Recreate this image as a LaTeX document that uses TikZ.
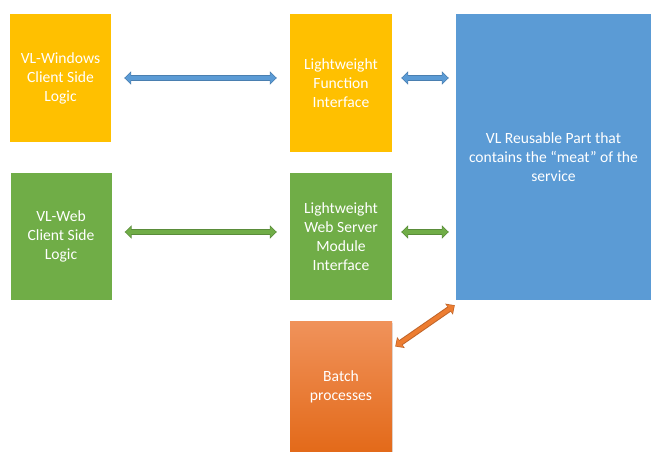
\documentclass[tikz,border=0pt]{standalone}
\usepackage{fontspec}
\setmainfont{Carlito}
\usetikzlibrary{arrows.meta,shadows}
\definecolor{cyel}{HTML}{FFC000}
\definecolor{cgrn}{HTML}{70AD47}
\definecolor{cblu}{HTML}{5B9BD5}
\definecolor{cbluD}{HTML}{4A7FB0}
\definecolor{cgrnD}{HTML}{5A8C3A}
\definecolor{corT}{HTML}{F0925A}
\definecolor{corB}{HTML}{E36A1A}
\definecolor{cor}{HTML}{ED7D31}
\definecolor{corD}{HTML}{C0652A}
\begin{document}
\begin{tikzpicture}[x=1pt,y=-1pt,
  box/.style={draw=none,text=white,align=center,font=\fontsize{15.6}{19}\selectfont,inner sep=0pt},
  arrD/.style={line width=6pt,{Triangle[width=13pt,length=7pt]}-{Triangle[width=13pt,length=7pt]}},
  arrL/.style={line width=4pt,shorten <=1pt,shorten >=1pt,{Triangle[width=10pt,length=5.5pt]}-{Triangle[width=10pt,length=5.5pt]}}
]
\useasboundingbox (0,0) rectangle (667,462);
\fill[white] (0,0) rectangle (667,462);
% boxes
\node[box,fill=cyel,minimum width=101pt,minimum height=128pt] (win) at (60.5,78) {VL-Windows\\Client Side\\Logic};
\node[box,fill=cyel,minimum width=102pt,minimum height=138pt] (lfi) at (341,83) {Lightweight\\Function\\Interface};
\node[box,fill=cblu,minimum width=195pt,minimum height=286pt] (vlr) at (553.5,157) {VL Reusable Part that\\contains the “meat” of the\\service};
\node[box,fill=cgrn,minimum width=101pt,minimum height=127pt] (web) at (61,236.5) {VL-Web\\Client Side\\Logic};
\node[box,fill=cgrn,minimum width=102pt,minimum height=127pt] (lws) at (341,236.5) {Lightweight\\Web Server\\Module\\Interface};
\node[box,minimum width=102pt,minimum height=129pt,top color=corT,bottom color=corB,
  drop shadow={shadow xshift=1pt,shadow yshift=-1pt,opacity=0.25}] (bat) at (341,386.5) {Batch\\processes};
% arrows
\draw[arrD,cbluD] ([xshift=13pt]win.east) -- ([xshift=-13pt]win.east -| lfi.west);
\draw[arrL,cblu] ([xshift=13pt]win.east) -- ([xshift=-13pt]win.east -| lfi.west);
\draw[arrD,cbluD] ([xshift=9pt]lfi.east |- win.east) -- ([xshift=-7pt]win.east -| vlr.west);
\draw[arrL,cblu] ([xshift=9pt]lfi.east |- win.east) -- ([xshift=-7pt]win.east -| vlr.west);
\draw[arrD,cgrnD] ([xshift=13pt,yshift=4.5pt]web.east) -- ([xshift=-13pt,yshift=4.5pt]web.east -| lws.west);
\draw[arrL,cgrn] ([xshift=13pt,yshift=4.5pt]web.east) -- ([xshift=-13pt,yshift=4.5pt]web.east -| lws.west);
\draw[arrD,cgrnD] ([xshift=9pt,yshift=4.5pt]lws.east) -- ([xshift=-7pt,yshift=4.5pt]lws.east -| vlr.west);
\draw[arrL,cgrn] ([xshift=9pt,yshift=4.5pt]lws.east) -- ([xshift=-7pt,yshift=4.5pt]lws.east -| vlr.west);
\draw[arrD,corD] ([xshift=3pt,yshift=40pt]bat.east) -- ([xshift=-1pt,yshift=-5pt]vlr.south west);
\draw[arrL,cor] ([xshift=3pt,yshift=40pt]bat.east) -- ([xshift=-1pt,yshift=-5pt]vlr.south west);
\end{tikzpicture}
\end{document}
